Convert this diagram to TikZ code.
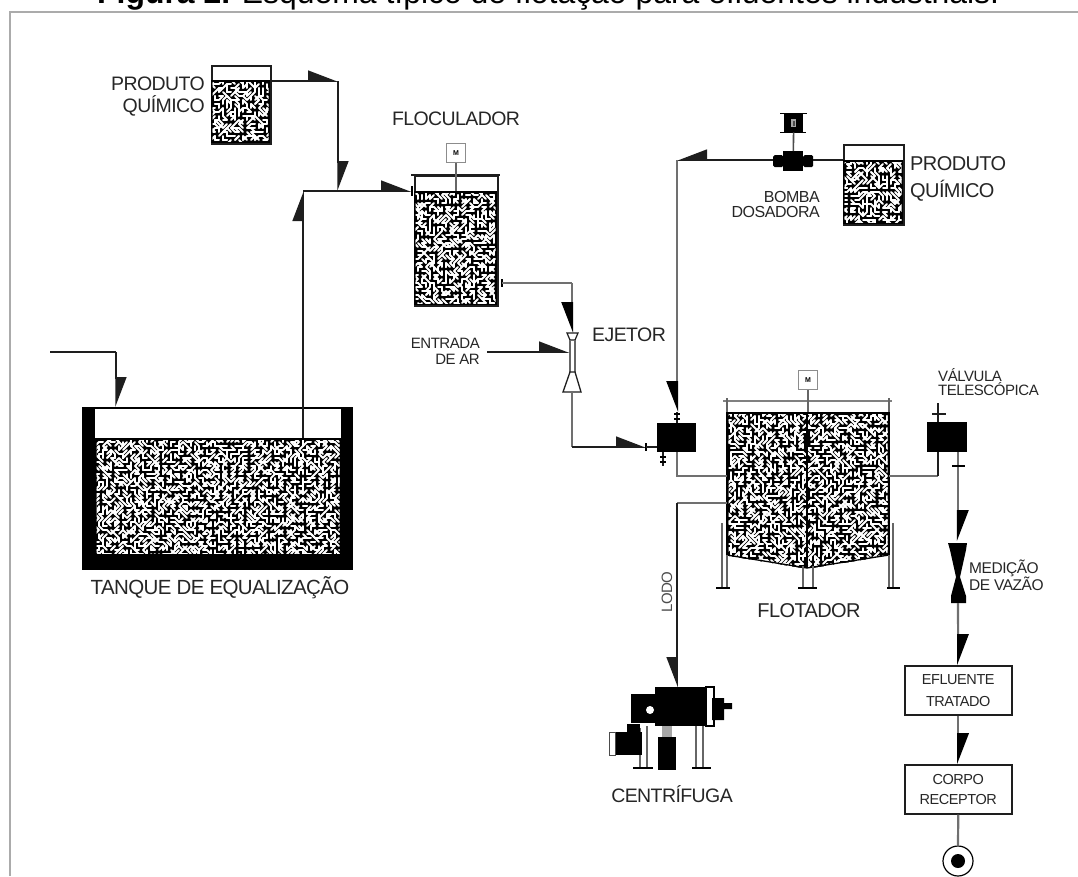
\documentclass[tikz,border=0pt]{standalone}
\usepackage{fontspec}
\setmainfont[LetterSpace=-3]{Liberation Sans}
\newfontfamily\titlefont{Liberation Sans}
\usetikzlibrary{arrows.meta, positioning, calc}
\definecolor{cline}{HTML}{1E1E1E}
\definecolor{cpipe}{HTML}{707070}
\definecolor{cframe}{HTML}{ABABAB}
\tikzset{
  pipe/.style={draw=cline, line width=1.5pt},
  pipeg/.style={draw=cpipe, line width=2.2pt},
  arrowl/.style={pipe, -{Triangle[left, length=28pt, width=21pt]}},
  arrowr/.style={pipe, -{Triangle[right, length=28pt, width=21pt]}},
  arrowlg/.style={pipeg, -{Triangle[left, length=28pt, width=21pt, fill=black, color=black]}},
  arrowrg/.style={pipeg, -{Triangle[right, length=28pt, width=21pt, fill=black, color=black]}},
  tank/.style={draw=cline, line width=1.5pt, inner sep=0pt, anchor=north west},
  block/.style={fill=black, inner sep=0pt, anchor=north west},
  motor/.style={draw=black!45, line width=1.6pt, fill=white, inner sep=0pt, minimum size=19pt, font=\fontsize{7}{7}\selectfont\bfseries},
  lab/.style={inner sep=0pt, text=black!85},
  grain/.style={draw=white, line width=2pt, line cap=round},
  legg/.style={draw=black!60, line width=1.3pt},
  tick/.style={draw=black, line width=1.6pt},
}
\newcommand{\stipple}[4]{
  \fill[black] (#1,#2) rectangle (#3,#4);
  \pgfmathtruncatemacro{\nx}{(#3-#1)/4}
  \pgfmathtruncatemacro{\ny}{(#4-#2)/4}
  \begin{scope}
    \clip (#1+1.5,#2+2.5) rectangle (#3-1.5,#4-2);
    \foreach \i in {0,...,\nx} \foreach \j in {0,...,\ny} {
      \pgfmathtruncatemacro{\pick}{random(0,7)}
      \pgfmathsetmacro{\dx}{{4,0,-4,0,4,-4,4,-4}[\pick]}
      \pgfmathsetmacro{\dy}{{0,4,0,-4,4,4,-4,-4}[\pick]}
      \draw[grain] ({#1+4*\i},{#2+4*\j}) -- ++(\dx,\dy);
    }
  \end{scope}
}
\begin{document}
\begin{tikzpicture}[x=1pt, y=-1pt]
  \pgfmathsetseed{7}
  \useasboundingbox (0,0) rectangle (1078,876);
  \node[inner sep=0pt, anchor=base west, font=\titlefont\fontsize{31.9}{34}\selectfont] (titulo) at (97,3) {\textbf{Figura 2.} Esquema típico de flotação para efluentes industriais.};
  \coordinate (fr0) at (10,876);
  \coordinate (fr1) at (10,12);
  \coordinate (fr2) at (1078,12);
  \draw[draw=cframe, line width=2pt] (fr0) -- (fr1) -- (fr2);

  \node[tank, minimum width=59pt, minimum height=78pt] (prodA) at (211,65) {};
  \stipple{211}{80}{270}{143}
  \node[lab, anchor=east, align=right, font=\fontsize{19.5}{22}\selectfont] (lprodA) at (205,97) {PRODUTO\\QUÍMICO};

  \node[tank, minimum width=60pt, minimum height=80pt] (prodB) at (843,144) {};
  \stipple{843}{160}{903}{224}
  \node[lab, anchor=west, align=left, font=\fontsize{20}{27}\selectfont] (lprodB) at (910,179) {PRODUTO\\QUÍMICO};

  \node[tank, minimum width=83pt, minimum height=130pt] (floc) at (414,175) {};
  \stipple{414}{191}{497}{305}
  \coordinate (rimA0) at (411,175);
  \coordinate (rimA1) at (500,175);
  \draw[draw=cline, line width=1.5pt] (rimA0) -- (rimA1);
  \node[motor] (motA) at (456,153) {M};
  \coordinate (shaftA) at (456,191);
  \draw[legg] (motA) -- (shaftA);
  \node[lab, font=\fontsize{19.5}{20}\selectfont] (lfloc) at (456,119) {FLOCULADOR};

  \node[block, minimum width=271pt, minimum height=163pt] (tanq) at (82,407) {};
  \fill[white] (95,408.5) rectangle (341,438);
  \stipple{95}{438}{341}{555}
  \node[lab, font=\fontsize{20.5}{22}\selectfont] (ltanq) at (220,588) {TANQUE DE EQUALIZAÇÃO};
  \coordinate (ent0) at (50,352);
  \coordinate (ent1) at (116,352);
  \coordinate (ent2) at (116,407);
  \draw[pipe] (ent0) -- (ent1);
  \draw[arrowl] (ent1) -- (ent2);

  \coordinate (c1) at (338,81);
  \coordinate (pa) at (270,81);
  \coordinate (j1) at (338,191);
  \coordinate (j0) at (303,191);
  \coordinate (sub) at (303,438);
  \coordinate (fin) at (411,191);
  \draw[arrowl] (pa) -- (c1);
  \draw[arrowl] (c1) -- (j1);
  \draw[arrowl] (sub) -- (j0);
  \draw[arrowl] (j0) -- (fin);
  \draw[tick] (412,186) -- (412,196);

  \coordinate (fout) at (502,283);
  \coordinate (f1) at (572,283);
  \coordinate (ejtop) at (572,333);
  \coordinate (ejbot) at (572,392);
  \coordinate (ar0) at (487,352);
  \coordinate (ar1) at (569,352);
  \coordinate (e1) at (572,447);
  \coordinate (e2) at (646,447);
  \draw[tick] (502,279) -- (502,287);
  \draw[pipeg] (fout) -- (f1);
  \draw[arrowrg] (f1) -- (ejtop);
  \draw[arrowl] (ar0) -- (ar1);
  \draw[draw=cline, line width=1.2pt, fill=white] (567,333) -- (578,333) -- (575,340) -- (570,340) -- cycle;
  \draw[draw=black!60, line width=1.2pt] (570,340) -- (570,372) (575,340) -- (575,372);
  \draw[draw=cline, line width=1.3pt, fill=white] (570,372) -- (575,372) -- (581,392) -- (563,392) -- cycle;
  \node[lab, anchor=west, font=\fontsize{19.5}{20}\selectfont] (lejet) at (592,335) {EJETOR};
  \node[lab, anchor=east, align=right, font=\fontsize{15}{16}\selectfont] (lar) at (480,351) {ENTRADA\\DE AR};
  \draw[pipeg] (ejbot) -- (e1);
  \draw[arrowl] (e1) -- (e2);
  \draw[tick] (646,443) -- (646,451);

  \node[block, minimum width=39pt, minimum height=29pt] (mist) at (657,423) {};
  \coordinate (m0) at (646,447);
  \coordinate (m1) at (657,447);
  \draw[pipe] (m0) -- (m1);
  \node[block, minimum width=20pt, minimum height=20pt] (bomba) at (783,151) {};
  \node[block, minimum width=10pt, minimum height=12pt, rounded corners=1.5pt] (flA) at (773,155) {};
  \node[block, minimum width=10pt, minimum height=12pt, rounded corners=1.5pt] (flB) at (803,155) {};
  \node[block, minimum width=19pt, minimum height=19pt] (motB) at (784,113) {};
  \fill[black!35] (791,119) rectangle (796,127);
  \fill[black!70] (792.5,120.5) rectangle (795,125.5);
  \draw[draw=black, line width=1pt] (780,113) -- (807,113) (780,132) -- (806,132);
  \draw[draw=black!70, line width=1.6pt] (motB) -- (bomba);
  \node[lab, anchor=east, align=right, font=\fontsize{16}{15}\selectfont] (lbomba) at (820,204) {BOMBA\\DOSADORA};
  \coordinate (t0) at (843,160);
  \coordinate (t1) at (813,160);
  \coordinate (t2) at (773,160);
  \coordinate (t3) at (677,160);
  \coordinate (t4) at (677,412);
  \coordinate (t5) at (677,423);
  \draw[pipe] (t0) -- (t1);
  \draw[arrowr] (t2) -- (t3);
  \draw[arrowrg] (t3) -- (t4);
  \draw[pipe] (t4) -- (t5);
  \draw[tick] (674,414) -- (680,414) (674,419) -- (680,419);
  \coordinate (fit0) at (663,452);
  \coordinate (fit1) at (663,466);
  \draw[pipe] (fit0) -- (fit1);
  \draw[tick] (660,457) -- (666,457) (660,462) -- (666,462);

  \stipple{727}{412}{889}{568}
  \fill[white] (725,555.5) -- (807,569) -- (725,569) -- cycle;
  \fill[white] (891,555.5) -- (807,569) -- (891,569) -- cycle;
  \draw[draw=black, line width=1.3pt] (727,555) -- (807,568) -- (889,555);
  \draw[draw=black, line width=1.6pt] (727,412) -- (727,555) (889,412) -- (889,555);
  \draw[draw=black, line width=2.5pt] (807,412) -- (807,568);
  \node[tank, draw=none, minimum width=162pt, minimum height=167pt] (flot) at (727,401) {};
  \coordinate (rimB0) at (723,401);
  \coordinate (rimB1) at (892,401);
  \draw[draw=black!50, line width=2pt] (rimB0) -- (rimB1);
  \draw[draw=black!60, line width=1.3pt] (727,398) -- (727,412) (889,398) -- (889,412);
  \node[motor] (motC) at (808,380) {M};
  \coordinate (shaftC) at (808,412);
  \draw[legg] (motC) -- (shaftC);
  \draw[legg] (722,523) -- (722,588) (727,555) -- (727,588);
  \draw[legg] (889,555) -- (889,588) (893,523) -- (893,588);
  \draw[legg] (803,566) -- (803,588) (813,566) -- (813,588);
  \draw[draw=black, line width=1.8pt] (716,588) -- (730,588) (798,588) -- (817,588) (887,588) -- (900,588);
  \node[lab, font=\fontsize{20}{20}\selectfont] (lflot) at (809,611) {FLOTADOR};

  \coordinate (s0) at (677,452);
  \coordinate (s1) at (677,476);
  \coordinate (s2) at (727,476);
  \coordinate (d0) at (889,476);
  \coordinate (d1) at (938,476);
  \coordinate (d2) at (938,452);
  \draw[pipeg] (s0) -- (s1) -- (s2);
  \draw[pipeg] (d0) -- (d1);
  \draw[pipe] (d1) -- (d2);
  \coordinate (l0) at (727,503);
  \coordinate (l1) at (677,503);
  \coordinate (l2) at (677,687);
  \draw[pipeg] (l0) -- (l1);
  \draw[arrowr] (l1) -- (l2);
  \node[lab, rotate=90, text=black!70, font=\fontsize{15}{16}\selectfont] (llodo) at (667,592) {LODO};

  \node[block, minimum width=40pt, minimum height=30pt] (valv) at (927,422) {};
  \coordinate (v0) at (938,403);
  \coordinate (v1) at (938,422);
  \draw[pipe] (v0) -- (v1);
  \draw[pipe] (932,414) -- (946,414);
  \node[lab, anchor=west, align=left, font=\fontsize{15}{14}\selectfont] (lvalv) at (938,382) {VÁLVULA\\TELESCÓPICA};

  \coordinate (q0) at (958,452);
  \coordinate (q1) at (958,541);
  \coordinate (q2) at (958,603);
  \draw[arrowlg] (q0) -- (q1);
  \draw[tick] (952,466) -- (965,466);
  \node[inner sep=0pt, minimum width=19pt, minimum height=60pt, anchor=north west] (medv) at (948,543) {};
  \fill[black] (948,543) -- (967,543) -- (966,550) -- (960,577) -- (966,596) -- (966,603) -- (951,603) -- (951,596) -- (956,577) -- (950,550) -- cycle;
  \node[lab, anchor=west, align=left, font=\fontsize{15.5}{17}\selectfont] (lmed) at (969,575) {MEDIÇÃO\\DE VAZÃO};

  \node[tank, minimum width=107pt, minimum height=49pt, align=center, font=\fontsize{14.5}{22}\selectfont, text=black!85] (eflu) at (904,665) {EFLUENTE\\TRATADO};
  \node[tank, minimum width=107pt, minimum height=49pt, align=center, font=\fontsize{14.5}{20}\selectfont, text=black!85] (corpo) at (904,764) {CORPO\\RECEPTOR};
  \node[circle, draw=black, line width=1.2pt, fill=white, minimum size=30pt, inner sep=0pt] (saida) at (958,861) {};
  \node[circle, fill=black, minimum size=14pt, inner sep=0pt] (saida2) at (958,861) {};
  \draw[arrowlg] (q2) -- (eflu.north);
  \draw[arrowlg] (eflu.south) -- (corpo.north);
  \draw[pipeg] (corpo.south) -- (saida.north);

  \node[block, minimum width=51pt, minimum height=39pt] (centA) at (655,687) {};
  \fill[black] (631,694) rectangle (655,723);
  \fill[white] (650,710) circle (4);
  \draw[draw=black, line width=1.2pt, fill=white] (706,687) rectangle (714,726);
  \fill[black] (712,698) -- (724,698) -- (724,703) -- (732,703) -- (732,709) -- (724,709) -- (724,720) -- (712,720) -- cycle;
  \draw[legg] (640,728) -- (640,767) (647,726) -- (647,767);
  \draw[legg] (696,726) -- (696,767) (703,726) -- (703,767);
  \draw[draw=black, line width=1.8pt] (633,768) -- (653,768) (692,768) -- (711,768);
  \fill[black] (615,732) rectangle (642,755);
  \fill[black] (627,724) rectangle (640,732);
  \draw[draw=black!70, line width=1pt, fill=white] (609,732) rectangle (615,755);
  \fill[black!35] (662,726) rectangle (672,737);
  \fill[black] (658,737) rectangle (676,770);
  \node[lab, font=\fontsize{19.5}{20}\selectfont] (lcent) at (672,794) {CENTRÍFUGA};
\end{tikzpicture}
\end{document}
